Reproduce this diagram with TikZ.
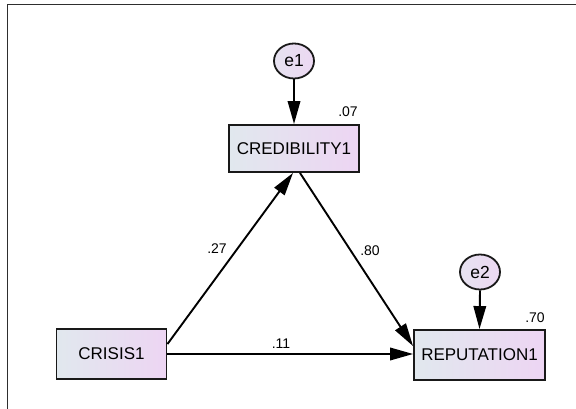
\documentclass[tikz,border=0pt]{standalone}
\usepackage{fontspec}
\setmainfont{Liberation Sans}
\usetikzlibrary{arrows.meta,calc,shapes.geometric}
\definecolor{boxleft}{HTML}{E1E8EE}
\definecolor{boxright}{HTML}{EDD5F3}
\definecolor{errleft}{HTML}{E6E2F0}
\definecolor{errright}{HTML}{ECD8F2}
\definecolor{framegray}{HTML}{2E2E2E}
\begin{document}
\begin{tikzpicture}[x=1pt,y=-1pt,
  observed/.style={draw=black!90,line width=1.9pt,rectangle,
    left color=boxleft,right color=boxright,inner sep=0pt,font=\fontsize{17}{17}\selectfont},
  errvar/.style={draw=black!90,line width=1.8pt,ellipse,minimum width=40pt,minimum height=35pt,
    left color=errleft,right color=errright,inner sep=0pt,font=\fontsize{17.5}{17.5}\selectfont},
  path/.style={line width=1.9pt,-{Triangle[length=23pt,width=12.5pt]}},
  coef/.style={font=\fontsize{14}{14}\selectfont,inner sep=0pt}]
\useasboundingbox (0,0) rectangle (576,409);
\fill[white] (0,0) rectangle (576,409);
% frame of the drawing area
\draw[framegray,line width=1.5pt] (7.5,409) -- (7.5,4.5) -- (576,4.5);

% observed variables
\node[observed,minimum width=110pt,minimum height=50pt] (cri) at (111.5,354) {CRISIS1};
\node[observed,minimum width=130pt,minimum height=47pt] (cred) at (294,148.5) {CREDIBILITY1};
\node[observed,minimum width=131pt,minimum height=50pt] (rep) at (479.5,355) {REPUTATION1};

% error terms
\node[errvar] (e1) at (294,61) {e1};
\node[errvar] (e2) at (480,272) {e2};

% paths
\draw[path] (e1.south) -- (cred.north);
\draw[path] (e2.south) -- (rep.north);
\draw[path] ($(cri.north east)+(0,16)$) -- ($(cred.south)+(-1,0)$);
\draw[path] ($(cred.south)+(6,0)$) -- ($(rep.north west)+(0,17)$);
\draw[path] (cri.east) -- (rep.west |- cri.east);

% coefficients
\node[coef] (r1) at (348,112) {.07};
\node[coef] (r2) at (535,317.5) {.70};
\node[coef] (c1) at (217,249) {.27};
\node[coef] (c2) at (370,251) {.80};
\node[coef] (c3) at (281,343.5) {.11};
\end{tikzpicture}
\end{document}
